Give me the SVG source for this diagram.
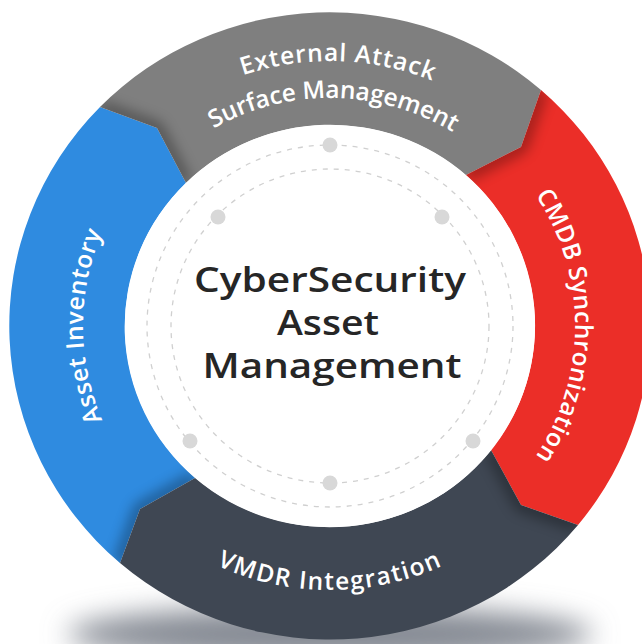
<svg xmlns="http://www.w3.org/2000/svg" width="642" height="644" viewBox="0 0 642 644">
  <style>
    .ring-label { font-family: "Open Sans", "Noto Sans", sans-serif; font-weight: 600; font-size: 24.5px; fill: #ffffff; }
    .core-label { font-family: "Open Sans", "Noto Sans", sans-serif; font-weight: 600; font-size: 35px; fill: #262626; }
    .track { fill: none; stroke: #d0d0d0; stroke-width: 1.3; stroke-dasharray: 5 6; }
    .stop { fill: #d8d8d8; }
    .edge-shade { fill: none; stroke: #000000; stroke-width: 12; stroke-linejoin: round; opacity: 0.38; filter: url(#soften); }
  </style>
  <defs>
    <filter id="soften" x="-50%" y="-50%" width="200%" height="200%">
      <feGaussianBlur stdDeviation="7"/>
    </filter>
    <filter id="floor-blur" x="-30%" y="-100%" width="160%" height="300%">
      <feGaussianBlur stdDeviation="14"/>
    </filter>

    <!-- ring sectors: each one ends in a point that pushes into the next sector -->
    <path id="sec-inventory" d="M120,563 A321,314 0 0 1 100,107 L157,128 L186,183 A205,201 0 0 0 195,478 L140,509 Z"/>
    <path id="sec-surface" d="M100,107 A321,314 0 0 1 541,90 L521,147 L466,175 A205,201 0 0 0 186,183 L157,128 Z"/>
    <path id="sec-cmdb" d="M541,90 A321,314 0 0 1 578,525 L521,505 L491,450 A205,201 0 0 0 466,175 L521,147 Z"/>
    <path id="sec-vmdr" d="M578,525 A321,314 0 0 1 120,563 L140,509 L195,478 A205,201 0 0 0 491,450 L521,505 Z"/>

    <clipPath id="clip-inventory"><use href="#sec-inventory"/></clipPath>
    <clipPath id="clip-surface"><use href="#sec-surface"/></clipPath>
    <clipPath id="clip-cmdb"><use href="#sec-cmdb"/></clipPath>
    <clipPath id="clip-vmdr"><use href="#sec-vmdr"/></clipPath>

    <!-- label baselines -->
    <path id="arc-top-outer" d="M60,326 A270,265 0 0 1 600,326"/>
    <path id="arc-top-inner" d="M97,326 A233,228 0 0 1 563,326"/>
    <path id="arc-right" d="M330,86 A245,240 0 0 1 330,566"/>
    <path id="arc-left" d="M330,568 A247,242 0 0 1 330,84"/>
    <path id="arc-bottom" d="M61,326 A269,264 0 0 0 599,326"/>
  </defs>

  <!-- soft floor shadow under the wheel -->
  <ellipse cx="330" cy="634" rx="262" ry="28" fill="#868b94" filter="url(#floor-blur)"/>

  <g id="asset-inventory">
    <use href="#sec-inventory" fill="#2f8be0"/>
    <g clip-path="url(#clip-inventory)">
      <polyline class="edge-shade" points="120,563 140,509 195,478"/>
    </g>
    <text class="ring-label" letter-spacing="0.6"><textPath href="#arc-left" startOffset="50%" text-anchor="middle">Asset Inventory</textPath></text>
  </g>

  <g id="external-attack-surface-management">
    <use href="#sec-surface" fill="#7f7f7f"/>
    <g clip-path="url(#clip-surface)">
      <polyline class="edge-shade" points="100,107 157,128 186,183"/>
    </g>
    <text class="ring-label" letter-spacing="0.9"><textPath href="#arc-top-outer" startOffset="51%" text-anchor="middle">External Attack</textPath></text>
    <text class="ring-label" letter-spacing="-0.1"><textPath href="#arc-top-inner" startOffset="50.5%" text-anchor="middle">Surface Management</textPath></text>
  </g>

  <g id="cmdb-synchronization">
    <use href="#sec-cmdb" fill="#eb2e28"/>
    <g clip-path="url(#clip-cmdb)">
      <polyline class="edge-shade" points="541,90 521,147 466,175"/>
    </g>
    <text class="ring-label" letter-spacing="0.4"><textPath href="#arc-right" startOffset="50%" text-anchor="middle">CMDB Synchronization</textPath></text>
  </g>

  <g id="vmdr-integration">
    <use href="#sec-vmdr" fill="#3f4753"/>
    <g clip-path="url(#clip-vmdr)">
      <polyline class="edge-shade" points="578,525 521,505 491,450"/>
    </g>
    <text class="ring-label" letter-spacing="1.5"><textPath href="#arc-bottom" startOffset="50%" text-anchor="middle">VMDR Integration</textPath></text>
  </g>

  <g id="cybersecurity-asset-management">
    <ellipse cx="330" cy="326" rx="205" ry="201" fill="#ffffff"/>
    <ellipse class="track" cx="330" cy="326" rx="183" ry="181"/>
    <ellipse class="track" cx="330" cy="326" rx="159" ry="157"/>
    <circle class="stop" cx="330" cy="145" r="7.5"/>
    <circle class="stop" cx="473" cy="441" r="7.5"/>
    <circle class="stop" cx="190" cy="441" r="7.5"/>
    <circle class="stop" cx="218" cy="217" r="7.5"/>
    <circle class="stop" cx="442" cy="217" r="7.5"/>
    <circle class="stop" cx="330" cy="483" r="7.5"/>
    <text class="core-label" x="330" y="292" text-anchor="middle" textLength="272" lengthAdjust="spacingAndGlyphs">CyberSecurity</text>
    <text class="core-label" x="328" y="335" text-anchor="middle" textLength="102" lengthAdjust="spacingAndGlyphs">Asset</text>
    <text class="core-label" x="332" y="378" text-anchor="middle" textLength="259" lengthAdjust="spacingAndGlyphs">Management</text>
  </g>
</svg>
